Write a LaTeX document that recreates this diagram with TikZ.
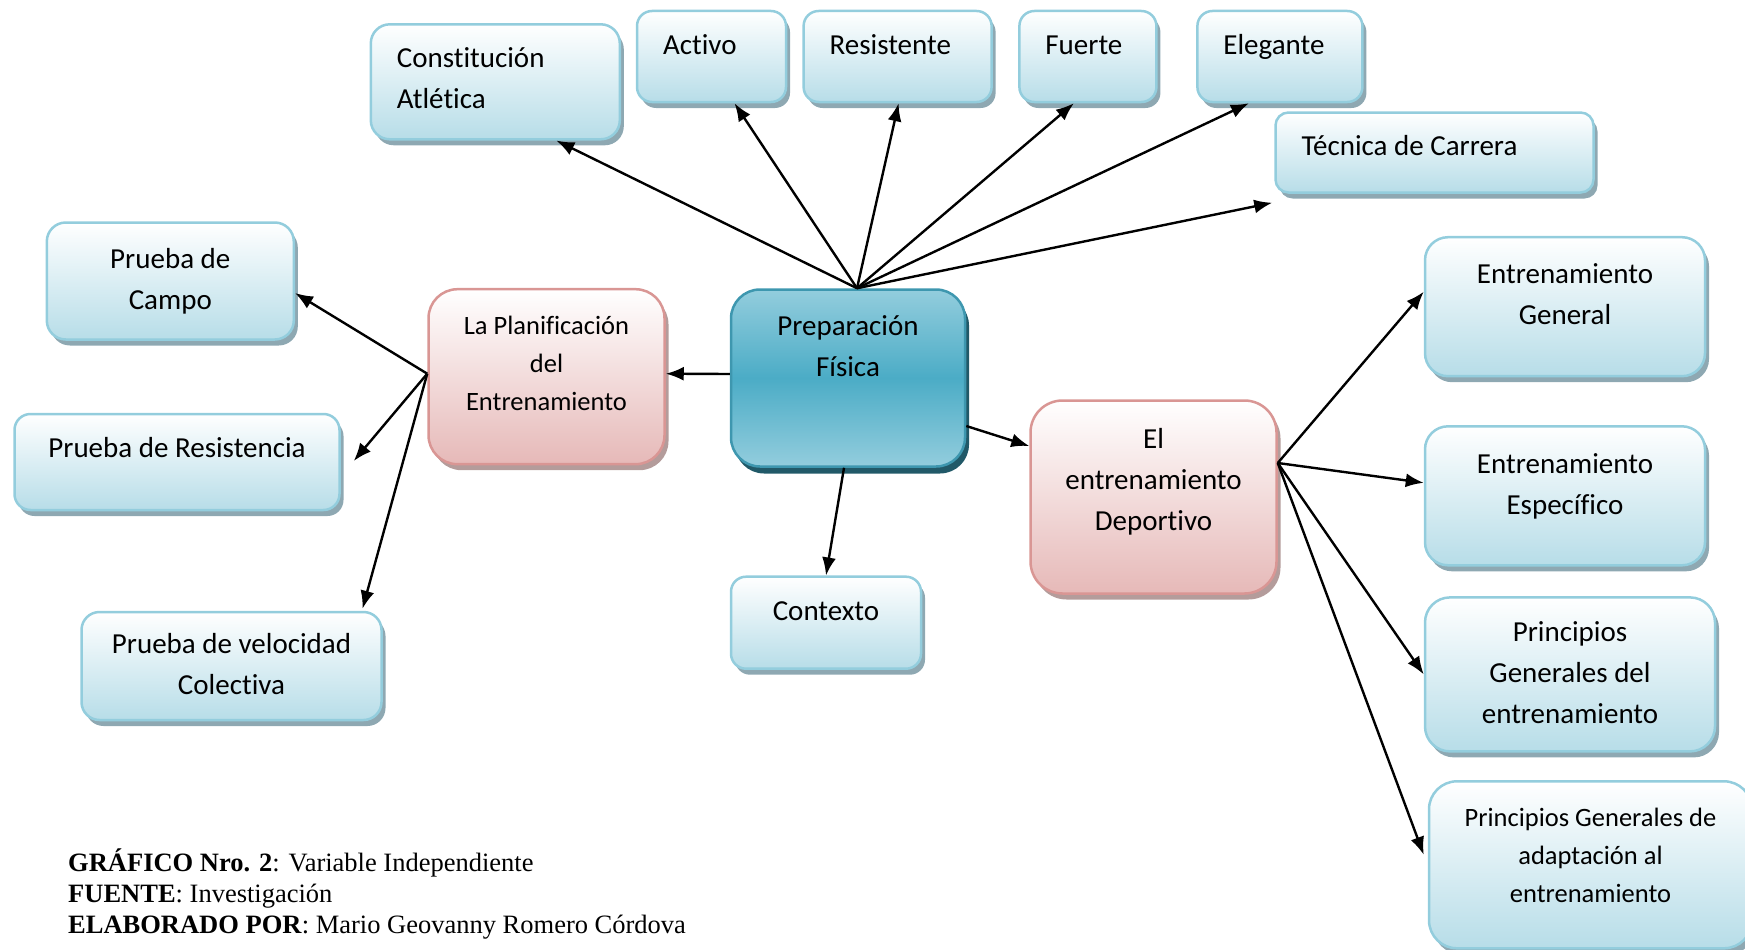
\documentclass[tikz,border=0pt]{standalone}
\usepackage{fontspec}
\setmainfont{Carlito}[Ligatures=NoCommon]
\newfontfamily\capfont{Liberation Serif}
\usetikzlibrary{arrows.meta,shadows}
\definecolor{bbord}{HTML}{93CDDD}
\definecolor{bbot}{HTML}{B7DDE8}
\definecolor{bshad}{HTML}{8EA8B2}
\definecolor{pbord}{HTML}{D99694}
\definecolor{pbot}{HTML}{E6B9B8}
\definecolor{pshad}{HTML}{B49C9B}
\definecolor{cbord}{HTML}{3E97AF}
\definecolor{clight}{HTML}{93CDDD}
\definecolor{cmid}{HTML}{4BACC6}
\definecolor{cshad}{HTML}{215968}
% centred text box: width, height, raise(x2), text
\newcommand\cbx[4]{\parbox[c][#2pt][c]{#1pt}{\centering\strut #4\strut\par\vspace*{#3pt}}}
% top-aligned text box: width, height, alignment, text
\newcommand\tbx[4]{\parbox[c][#2pt][t]{#1pt}{\vspace*{14.5pt}#3\strut #4\par}}
\newcommand\lft{\raggedright\leftskip=26pt\relax}
\tikzset{
  mainfont/.style={font=\fontsize{29}{41}\selectfont},
  smallfont/.style={font=\fontsize{26.5}{38}\selectfont},
  boxbase/.style={inner sep=0pt, line width=2.5pt, rounded corners=#1, mainfont},
  bluebox/.style={boxbase=#1, draw=bbord, top color=white, bottom color=bbot,
    drop shadow={shadow xshift=4pt, shadow yshift=-6pt, fill=bshad, opacity=1}},
  pinkbox/.style={boxbase=#1, draw=pbord, top color=white, bottom color=pbot,
    drop shadow={shadow xshift=4pt, shadow yshift=-6pt, fill=pshad, opacity=1}},
  centerbox/.style={boxbase=#1, draw=cbord, top color=clight, bottom color=clight, middle color=cmid,
    drop shadow={shadow xshift=4pt, shadow yshift=-7pt, fill=cshad, opacity=1}},
  arr/.style={-{Latex[length=18pt,width=14pt]}, line width=2.4pt, black},
}
\begin{document}
\begin{tikzpicture}[x=1pt,y=-1pt]
\useasboundingbox (0,0) rectangle (1745,950);
\clip (0,0) rectangle (1745,950);
% top row
\node[bluebox=19] (cons) at (495.3,81.8) {\tbx{249}{115}{\lft}{Constitución\\Atlética}};
\node[bluebox=15] (activo) at (711.5,56.5) {\tbx{149}{91}{\lft}{Activo}};
\node[bluebox=15] (resis) at (897.6,56.5) {\tbx{188}{91}{\lft}{Resistente}};
\node[bluebox=15] (fuerte) at (1087.9,56.5) {\tbx{137}{91}{\lft}{Fuerte}};
\node[bluebox=15] (elegante) at (1279.9,56.5) {\tbx{165}{91}{\lft}{Elegante}};
\node[bluebox=13] (tecnica) at (1434.5,152.5) {\tbx{318}{80}{\lft}{Técnica de Carrera}};
% left column
\node[bluebox=19] (campo) at (170.3,281) {\cbx{247}{117}{0}{Prueba de\\Campo}};
\node[bluebox=16] (resist) at (177,462) {\tbx{325}{96}{\centering}{Prueba de Resistencia}};
\node[bluebox=18] (veloc) at (231.5,666) {\cbx{300}{108}{0}{Prueba de velocidad\\Colectiva}};
% middle
\node[pinkbox=29, smallfont] (plan) at (546.5,376.7) {\cbx{236}{175}{24}{La Planificación\\del\\Entrenamiento}};
\node[centerbox=29] (prep) at (848,378) {\cbx{234}{177}{60}{Preparación\\Física}};
\node[bluebox=15] (ctx) at (826,622.7) {\cbx{190}{92}{20}{Contexto}};
\node[pinkbox=32] (entren) at (1153.5,497) {\cbx{246}{193}{32}{El\\entrenamiento\\Deportivo}};
% right column
\node[bluebox=23] (egen) at (1565,306.7) {\cbx{280}{139}{22}{Entrenamiento\\General}};
\node[bluebox=23] (eesp) at (1565,495.8) {\cbx{280}{139}{20}{Entrenamiento\\Específico}};
\node[bluebox=25] (pdel) at (1570,674.4) {\cbx{290}{154}{0}{Principios\\Generales del\\entrenamiento}};
\node[bluebox=28, smallfont] (padap) at (1590.5,864.8) {\cbx{323}{167}{16}{Principios Generales de\\adaptación al\\entrenamiento}};
% caption
\node[anchor=base west, inner sep=0pt, font=\capfont\fontsize{26.5}{31}\selectfont] (cap) at (68,871)
  {\parbox[t]{800pt}{\textbf{GRÁFICO Nro. 2}: Variable Independiente\\\textbf{FUENTE}: Investigación\\\textbf{ELABORADO POR}: Mario Geovanny Romero Córdova}};
% hubs
\coordinate (hP) at ([xshift=9pt]prep.north);
\coordinate (hL) at ([yshift=3pt]plan.west);
\coordinate (hR) at ([yshift=34pt]entren.east);
% connectors
\draw[arr] (hP) -- ([xshift=61pt]cons.south);
\draw[arr] (hP) -- ([xshift=23pt]activo.south);
\draw[arr] (hP) -- ([xshift=1pt]resis.south);
\draw[arr] (hP) -- ([xshift=-14pt]fuerte.south);
\draw[arr] (hP) -- ([xshift=-31pt]elegante.south);
\draw[arr] (hP) -- ([shift={(-2pt,-9pt)}]tecnica.south west);
\draw[arr] ([yshift=4pt]prep.west) -- ([yshift=3pt]plan.east);
\draw[arr] ([yshift=-48pt]prep.east) -- ([yshift=51pt]entren.west);
\draw[arr] ([xshift=-4pt]prep.south) -- (ctx.north);
\draw[arr] (hL) -- ([yshift=-12pt]campo.east);
\draw[arr] (hL) -- ([xshift=13pt,yshift=1pt]resist.east);
\draw[arr] (hL) -- ([xshift=131pt,yshift=2pt]veloc.north);
\draw[arr] (hR) -- ([yshift=15pt]egen.west);
\draw[arr] (hR) -- ([yshift=13pt]eesp.west);
\draw[arr] (hR) -- (pdel.west);
\draw[arr] (hR) -- ([xshift=-4pt,yshift=10pt]padap.west);
\end{tikzpicture}
\end{document}
